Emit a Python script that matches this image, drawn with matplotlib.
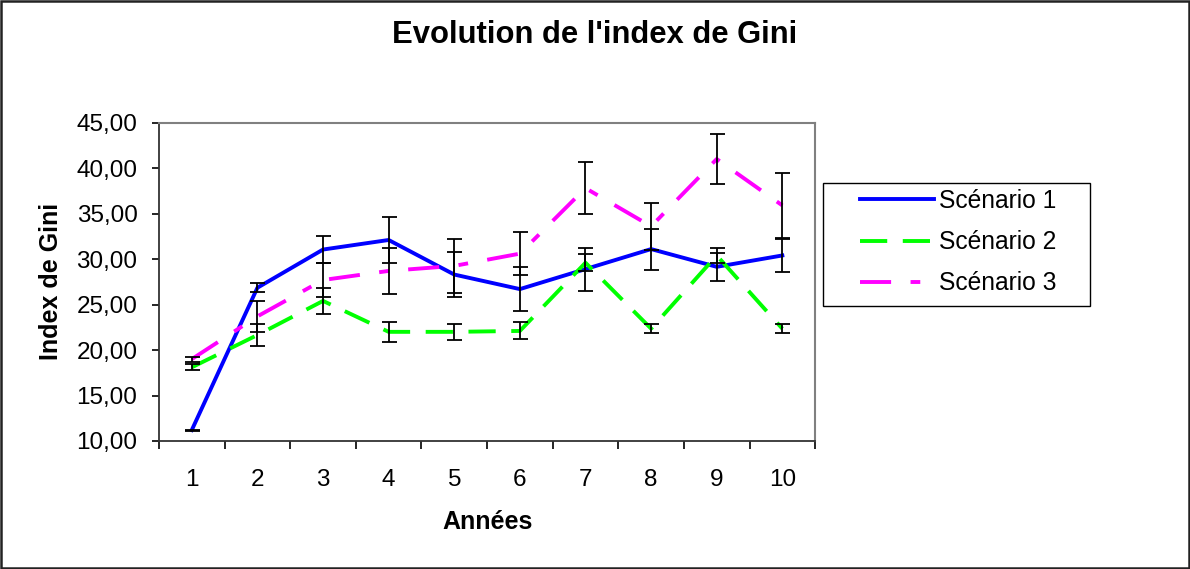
import matplotlib.pyplot as plt
from matplotlib.patches import Rectangle
from matplotlib.ticker import FuncFormatter, FixedLocator

plt.rcParams['font.family'] = ['Liberation Sans', 'DejaVu Sans']

annees = [1, 2, 3, 4, 5, 6, 7, 8, 9, 10]

scenario_1 = [11.2, 26.85, 31.05, 32.1, 28.3, 26.7, 28.9, 31.1, 29.15, 30.4]
erreur_1 = [0.05, 0.5, 1.5, 2.57, 2.47, 2.38, 2.37, 2.26, 1.57, 1.78]

scenario_2 = [18.1, 21.65, 25.4, 22.0, 22.0, 22.1, 29.6, 22.35, 30.4, 22.35]
erreur_2 = [0.35, 1.18, 1.4, 1.07, 0.85, 0.93, 0.95, 0.5, 0.8, 0.5]

scenario_3 = [19.0, 23.7, 27.7, 28.7, 29.25, 30.6, 37.8, 33.6, 41.0, 35.9]
erreur_3 = [0.27, 1.74, 1.9, 2.57, 2.94, 2.35, 2.87, 2.6, 2.7, 3.57]

series = [
    ("Scénario 1", scenario_1, erreur_1, "#0000FF", "-"),
    ("Scénario 2", scenario_2, erreur_2, "#00FF00", (0, (7, 4))),
    ("Scénario 3", scenario_3, erreur_3, "#FF00FF", (0, (8, 5, 2.5, 5))),
]

fig = plt.figure(figsize=(11.9, 5.69), dpi=100)
ax = fig.add_axes([0.1336, 0.225, 0.5514, 0.5594])

for nom, valeurs, err, couleur, style in series:
    ax.plot(annees, valeurs, color=couleur, linestyle=style, linewidth=2.8,
            label=nom, zorder=2)
for nom, valeurs, err, couleur, style in series:
    ax.errorbar(annees, valeurs, yerr=err, fmt='none', ecolor='black',
                elinewidth=1.3, capsize=5.4, capthick=1.3, zorder=3)

ax.set_xlim(0.5, 10.5)
ax.set_ylim(10, 45)
ax.set_yticks([10, 15, 20, 25, 30, 35, 40, 45])
ax.yaxis.set_major_formatter(FuncFormatter(lambda v, p: f"{v:.2f}".replace('.', ',')))

# graduations entre les années, étiquettes au centre
ax.xaxis.set_major_locator(FixedLocator([x + 0.5 for x in range(0, 11)]))
ax.xaxis.set_major_formatter(FuncFormatter(lambda v, p: ""))
ax.xaxis.set_minor_locator(FixedLocator(annees))
ax.xaxis.set_minor_formatter(FuncFormatter(lambda v, p: f"{int(v)}"))
ax.tick_params(axis='x', which='major', length=6, width=1.2, direction='out')
ax.tick_params(axis='x', which='minor', length=0, pad=20, labelsize=17.5)
ax.tick_params(axis='y', length=5, width=1.2, direction='out', pad=10.5, labelsize=17.5)

for cote in ['top', 'right']:
    ax.spines[cote].set_color('#808080')
    ax.spines[cote].set_linewidth(1.5)
for cote in ['left', 'bottom']:
    ax.spines[cote].set_color('#333333')
    ax.spines[cote].set_linewidth(1.3)

ax.set_xlabel("Années", fontsize=18, fontweight='bold', labelpad=14)
ax.set_ylabel("Index de Gini", fontsize=18, fontweight='bold', labelpad=10)
fig.suptitle("Evolution de l'index de Gini", fontsize=22.3, fontweight='bold',
             x=0.5, y=0.965)

# légende sans cadre, cadre dessiné à part
leg = ax.legend(loc='upper left', bbox_to_anchor=(860 / 1190, 1 - 189 / 569),
                bbox_transform=fig.transFigure, fontsize=17.7, frameon=False,
                handlelength=3.0, handletextpad=0.2, borderpad=0.0,
                borderaxespad=0.0, labelspacing=0.7)
fig.patches.append(Rectangle((823 / 1190, 1 - 306 / 569), 267 / 1190, 123 / 569,
                             transform=fig.transFigure, fill=False,
                             edgecolor='black', linewidth=1.0))

fig.patches.append(Rectangle((0.001, 0.002), 0.998, 0.996, transform=fig.transFigure,
                             fill=False, edgecolor='#222222', linewidth=1.8))

fig.savefig("out.png", dpi=100)
